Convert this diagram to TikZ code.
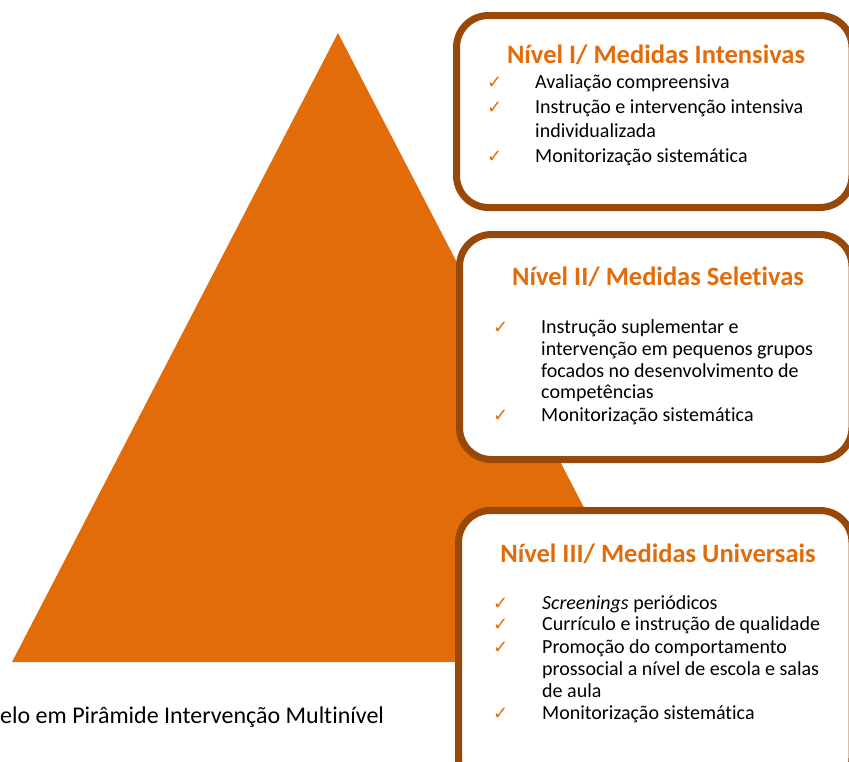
\documentclass[tikz,border=0pt]{standalone}
\usepackage{fontspec}
\setmainfont{Carlito}[Ligatures=NoCommon]
\newfontfamily\symfont{DejaVu Sans}
\definecolor{pyramid-orange}{RGB}{227,108,10}
\definecolor{box-brown}{RGB}{152,72,8}
\tikzstyle{levelbox}=[draw=box-brown,line width=7pt,rounded corners=32pt,fill=white]
\tikzstyle{leveltitle}=[anchor=base,inner sep=0pt,text=pyramid-orange,font=\fontsize{26.5}{30}\selectfont\bfseries]
\tikzstyle{itemtext}=[anchor=base west,inner sep=0pt,font=\fontsize{20}{24}\selectfont]
\tikzstyle{checkmark}=[anchor=base west,inner sep=0pt,text=pyramid-orange,font=\symfont\fontsize{18}{20}\selectfont]
\newcommand{\checkitem}[5]{% name, check x, text x, y, text
  \node[checkmark] (#1check) at (#2,#4) {✓};
  \node[itemtext] (#1) at (#3,#4) {#5};
}
\newcommand{\contline}[4]{% name, text x, y, text
  \node[itemtext] (#1) at (#2,#3) {#4};
}
\begin{document}
\begin{tikzpicture}[x=1pt,y=-1pt]
	\useasboundingbox (0,0) rectangle (849,761);
	% the pyramid
	\fill[pyramid-orange] (338,33) -- (664,662) -- (12,662) -- cycle;
	\node[itemtext,font=\fontsize{24}{28}\selectfont] (caption) at (0,723) {elo em Pirâmide Intervenção Multinível};
	% level I
	\draw[levelbox] (456.5,15.5) rectangle (852,207.5);
	\node[leveltitle] (title1) at (656,63) {Nível I/ Medidas Intensivas};
	\checkitem{a1}{487}{535}{88}{Avaliação compreensiva}
	\checkitem{a2}{487}{535}{113}{Instrução e intervenção intensiva}
	\contline{a2b}{535}{137}{individualizada}
	\checkitem{a3}{487}{535}{162}{Monitorização sistemática}
	% level II
	\draw[levelbox] (459.5,234.5) rectangle (852,459.5);
	\node[leveltitle] (title2) at (658,285) {Nível II/ Medidas Seletivas};
	\checkitem{b1}{493}{541}{333}{Instrução suplementar e}
	\contline{b1b}{541}{355}{intervenção em pequenos grupos}
	\contline{b1c}{541}{377}{focados no desenvolvimento de}
	\contline{b1d}{541}{398}{competências}
	\checkitem{b2}{493}{541}{421}{Monitorização sistemática}
	% level III
	\draw[levelbox] (458.5,510.5) rectangle (852,790);
	\node[leveltitle] (title3) at (658,562) {Nível III/ Medidas Universais};
	\checkitem{c1}{493}{542}{609}{\textit{Screenings} periódicos}
	\checkitem{c2}{493}{542}{630}{Currículo e instrução de qualidade}
	\checkitem{c3}{493}{542}{653}{Promoção do comportamento}
	\contline{c3b}{542}{675}{prossocial a nível de escola e salas}
	\contline{c3c}{542}{697}{de aula}
	\checkitem{c4}{493}{542}{719}{Monitorização sistemática}
\end{tikzpicture}
\end{document}
